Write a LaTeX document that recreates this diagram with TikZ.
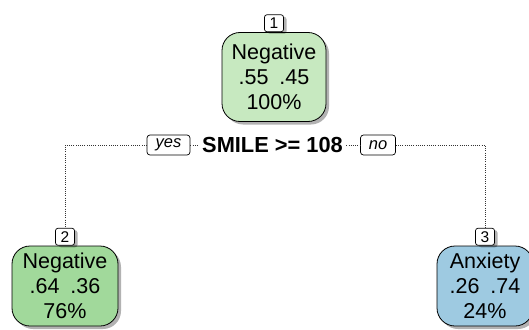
\documentclass[tikz,border=0pt]{standalone}
\usepackage{fontspec}
\setmainfont{Liberation Sans}
\usetikzlibrary{shadows}
\definecolor{gnlight}{HTML}{C7E9C0}
\definecolor{gnmid}{HTML}{A1D99B}
\definecolor{bumid}{HTML}{9ECAE1}
\tikzset{
  treebox/.style={draw=black, line width=0.8pt, rounded corners=18pt, inner sep=0pt,
    align=center, font=\fontsize{21.5}{25}\selectfont,
    drop shadow={shadow xshift=3pt, shadow yshift=-3pt, opacity=0.3, fill=black}},
  numbox/.style={draw=black, line width=0.7pt, fill=white, rounded corners=2.5pt, inner sep=0pt,
    minimum width=19pt, minimum height=17pt, font=\fontsize{15.5}{15.5}\selectfont, anchor=south,
    drop shadow={shadow xshift=3pt, shadow yshift=-2pt, opacity=0.3, fill=black}},
  tagbox/.style={draw=black, line width=0.7pt, fill=white, rounded corners=3pt, inner sep=0pt,
    minimum height=20pt, font=\fontsize{16.5}{16.5}\selectfont\itshape},
  branch/.style={line width=0.7pt, dash pattern=on 0.7pt off 1.5pt, black!80},
}
\begin{document}
\begin{tikzpicture}[x=1pt, y=-1pt]
\useasboundingbox (0,0) rectangle (529,329);
\clip (0,0) rectangle (529,329);
% split connectors
\coordinate (cL) at (65,145);
\coordinate (cR) at (485,145);
\node[font=\fontsize{21.8}{21.8}\selectfont\bfseries] (split) at (272.5,145) {SMILE >= 108};
\node[tagbox, minimum width=43pt] (yes) at (168.5,145) {yes};
\node[tagbox, minimum width=35pt] (no) at (378,145) {no};
% nodes
\node[treebox, fill=gnlight, minimum width=104pt, minimum height=89pt] (n1) at (274,77) {Negative\\.55\enspace.45\\100\%};
\node[numbox] (l1) at (n1.north) {1};
\node[treebox, fill=gnmid, minimum width=106pt, minimum height=80pt] (n2) at (65,286) {Negative\\.64\enspace.36\\76\%};
\node[numbox] (l2) at (n2.north) {2};
\node[treebox, fill=bumid, minimum width=96pt, minimum height=80pt] (n3) at (485,286) {Anxiety\\.26\enspace.74\\24\%};
\node[numbox] (l3) at (n3.north) {3};
\draw[branch] (yes.west) -- (cL) -- (l2.north);
\draw[branch] (yes.east) -- (split.west);
\draw[branch] (split.east) -- (no.west);
\draw[branch] (no.east) -- (cR) -- (l3.north);
\end{tikzpicture}
\end{document}
